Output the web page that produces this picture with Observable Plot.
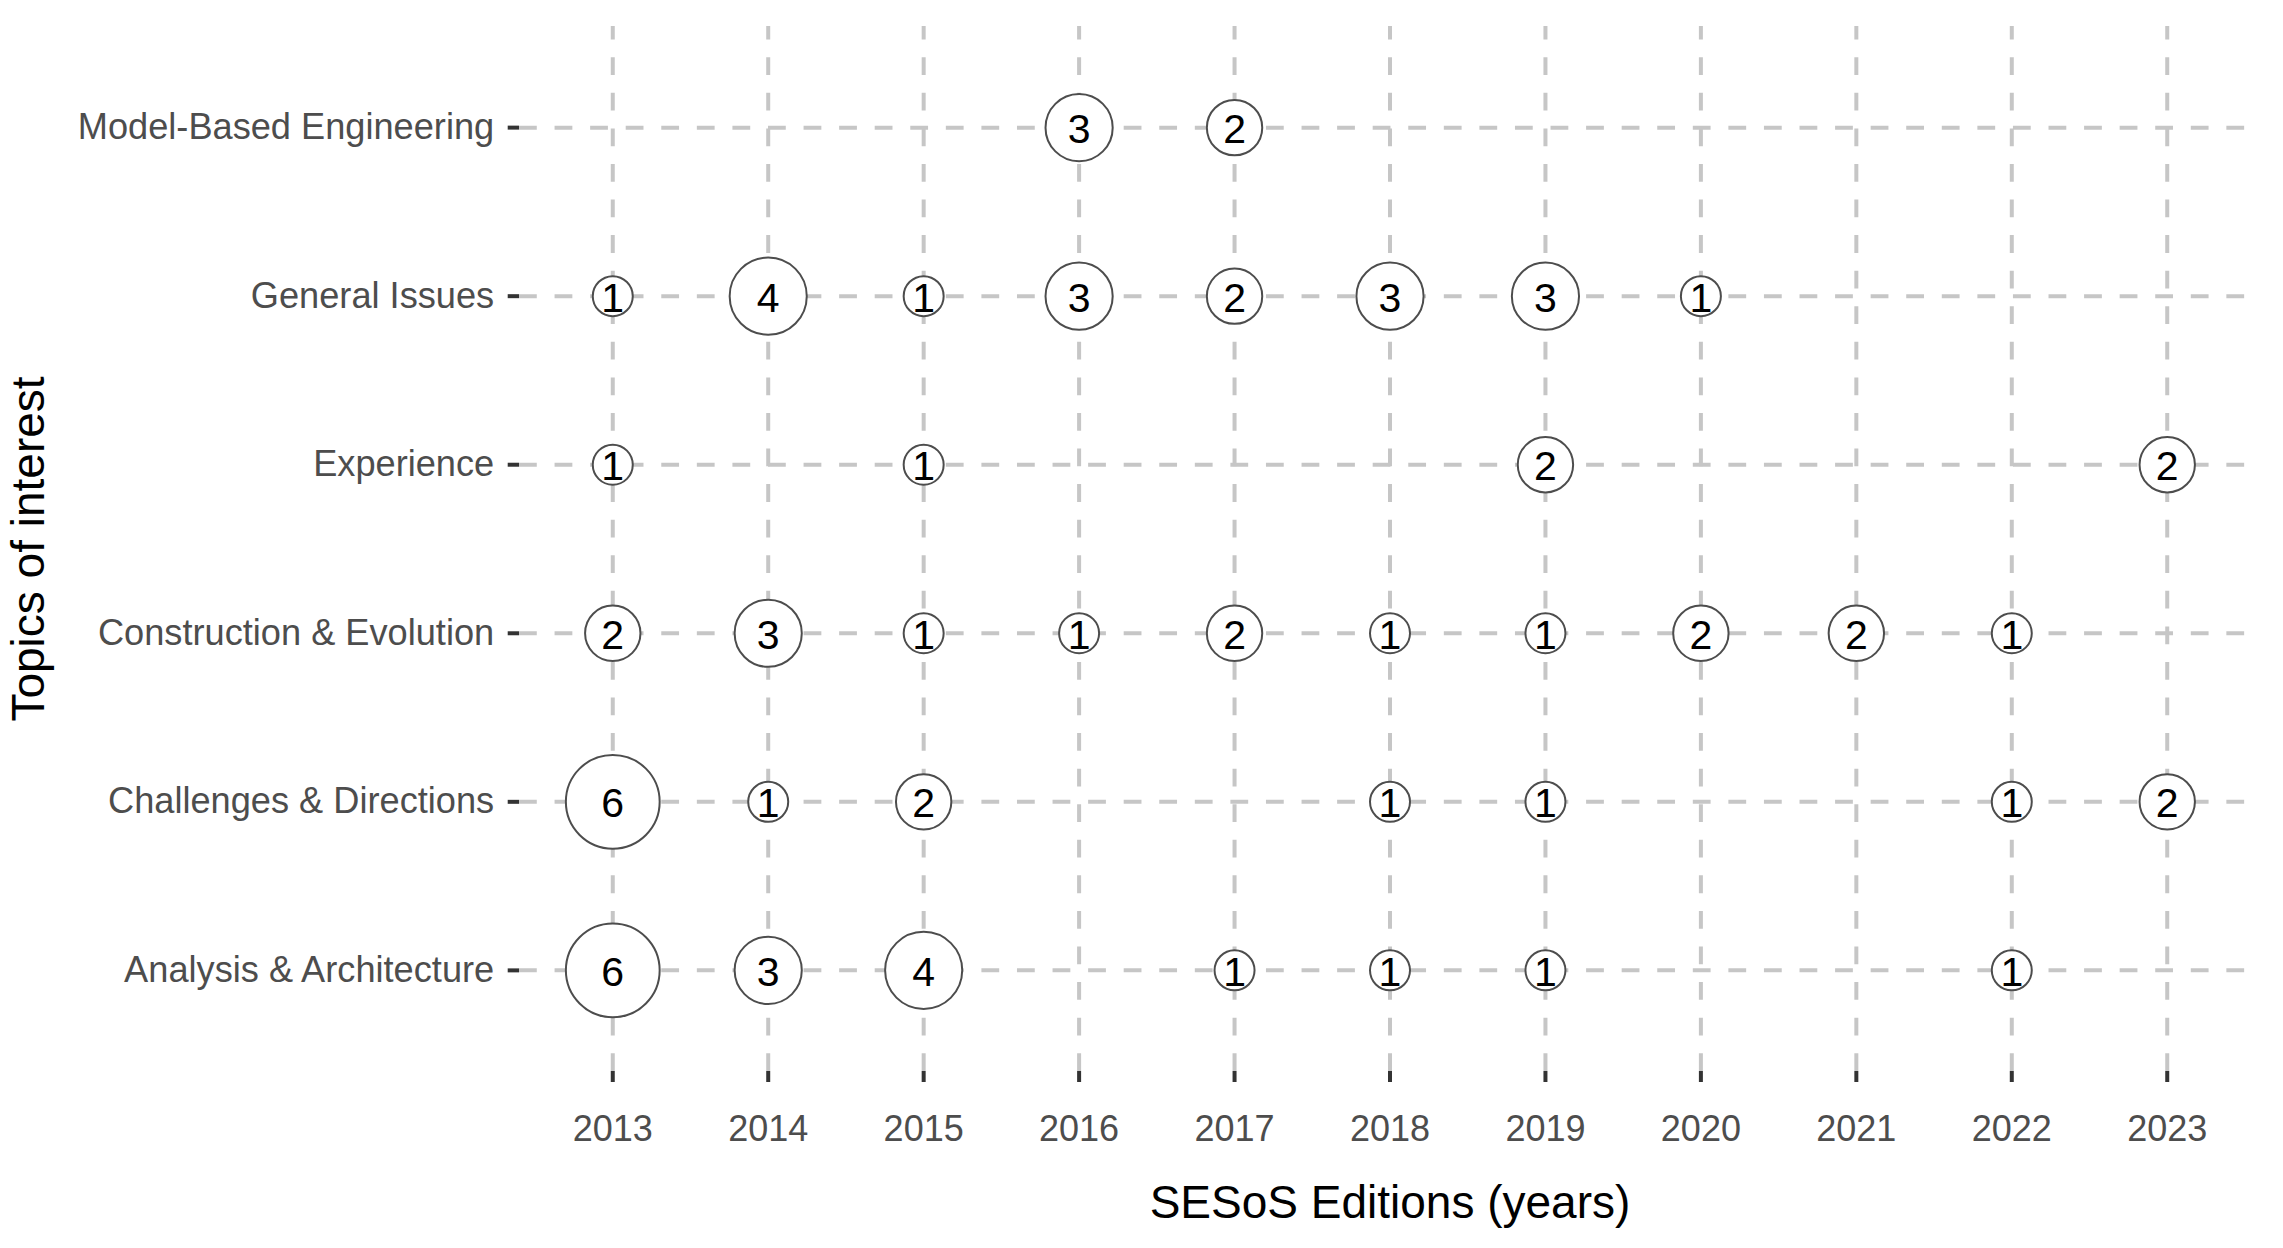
<!DOCTYPE html>
<html>
<head>
<meta charset="utf-8">
<script src="https://cdn.jsdelivr.net/npm/d3@7"></script>
<script src="https://cdn.jsdelivr.net/npm/@observablehq/plot@0.6"></script>
<style>
  html, body { margin: 0; padding: 0; background: #ffffff; overflow: hidden; }
  #chart svg { display: block; }
</style>
</head>
<body>
<div id="chart"></div>
<script>
// ---- Data ----
const years = [2013, 2014, 2015, 2016, 2017, 2018, 2019, 2020, 2021, 2022, 2023];
const topics = [
  "Model-Based Engineering",
  "General Issues",
  "Experience",
  "Construction & Evolution",
  "Challenges & Directions",
  "Analysis & Architecture"
];
// counts per year (same order as `years`), 0 = no publication
const modelBasedEngineering  = [0, 0, 0, 3, 2, 0, 0, 0, 0, 0, 0];
const generalIssues          = [1, 4, 1, 3, 2, 3, 3, 1, 0, 0, 0];
const experience             = [1, 0, 1, 0, 0, 0, 2, 0, 0, 0, 2];
const constructionEvolution  = [2, 3, 1, 1, 2, 1, 1, 2, 2, 1, 0];
const challengesDirections   = [6, 1, 2, 0, 0, 1, 1, 0, 0, 1, 2];
const analysisArchitecture   = [6, 3, 4, 0, 1, 1, 1, 0, 0, 1, 0];

const xTitle = "SESoS Editions (years)";
const yTitle = "Topics of interest";

// ---- Build table ----
const series = [modelBasedEngineering, generalIssues, experience,
                constructionEvolution, challengesDirections, analysisArchitecture];
const data = [];
topics.forEach((topic, i) => {
  series[i].forEach((n, j) => {
    if (n > 0) data.push({topic, year: years[j], n});
  });
});

const W = 2283, H = 1248;
const mLeft = 519, mRight = 23, mTop = 26, mBottom = 177;
const font = "'Liberation Sans', Arial, Helvetica, sans-serif";
const gridColor = "#c6c6c6";
const dash = 17.785;
const dashP = 2 * dash;
const vLen = H - mTop - mBottom;
const vOffset = ((dash - vLen) % dashP + dashP) % dashP;

const chart = Plot.plot({
  width: W,
  height: H,
  marginLeft: mLeft,
  marginRight: mRight,
  marginTop: mTop,
  marginBottom: mBottom,
  style: {background: "#ffffff", fontFamily: font},
  x: {type: "point", domain: years, padding: 0.6, round: false},
  y: {type: "point", domain: topics, padding: 0.6, round: false},
  r: {type: "sqrt", domain: [1, 6], range: [20, 46.9]},
  marks: [
    Plot.gridX({stroke: gridColor, strokeOpacity: 1, strokeWidth: 4,
                strokeDasharray: `${dash},${dash}`, strokeDashoffset: vOffset}),
    Plot.gridY({stroke: gridColor, strokeOpacity: 1, strokeWidth: 4,
                strokeDasharray: `${dash},${dash}`}),
    Plot.axisX({anchor: "bottom", tickSize: 11, tickPadding: 33, strokeWidth: 4,
                stroke: "#333333", fill: "#4d4d4d", fontSize: 36, label: null,
                tickFormat: d => String(d)}),
    Plot.axisY({anchor: "left", tickSize: 11.3, tickPadding: 14, strokeWidth: 4,
                stroke: "#333333", fill: "#4d4d4d", fontSize: 36.2, label: null}),
    Plot.dot(data, {x: "year", y: "topic", r: "n", fill: "white",
                    stroke: "#4d4d4d", strokeWidth: 2}),
    Plot.text(data, {x: "year", y: "topic", text: d => String(d.n),
                     fontSize: 41, fill: "#000000", dy: 2.5}),
    Plot.text([xTitle], {frameAnchor: "bottom", lineAnchor: "middle",
                         dy: 132, fontSize: 46, fill: "#000000"}),
    Plot.text([yTitle], {frameAnchor: "left", lineAnchor: "middle",
                         textAnchor: "middle", rotate: -90,
                         dx: 28.5 - mLeft, fontSize: 46, fill: "#000000"})
  ]
});

document.getElementById("chart").appendChild(chart);
</script>
</body>
</html>
